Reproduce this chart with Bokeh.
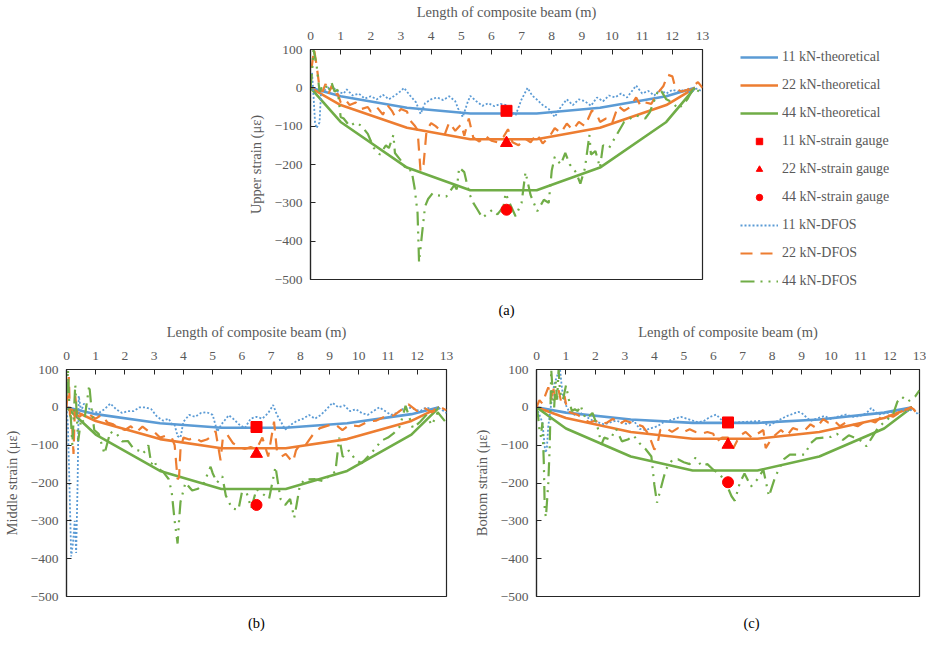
from bokeh.plotting import figure
from bokeh.models import Range1d, FixedTicker, Legend, LegendItem, LinearAxis, Spacer
from bokeh.layouts import column, row
from bokeh.embed import file_html
from bokeh.resources import INLINE

FONT = "Liberation Serif"
GRAY = "#595959"
AXC = "#262626"
BLUE, ORANGE, GREEN, RED = "#5B9BD5", "#ED7D31", "#70AD47", "#FF0000"

X_TICKS = list(range(0, 14))
Y_TICKS = [-500, -400, -300, -200, -100, 0, 100]
X_LABEL = "Length of composite beam (m)"

# theoretical curves (x in m, strain in micro-strain)
THEO_X = [0, 1.0, 3.2, 5.3, 7.5, 9.6, 11.8, 12.75]
A_THEO_11 = [0, -22, -52, -67, -67, -52, -22, 0]
A_THEO_22 = [0, -45, -104, -134, -134, -104, -45, 0]
A_THEO_44 = [0, -89, -208, -267, -267, -208, -89, 0]
B_THEO_11 = [0, -18, -42, -54, -54, -42, -18, 0]
B_THEO_22 = [0, -36, -84, -108, -108, -84, -36, 0]
B_THEO_44 = [0, -72, -168, -216, -216, -168, -72, 0]
C_THEO_11 = [0, -14, -32, -41, -41, -32, -14, 0]
C_THEO_22 = [0, -28, -65, -83, -83, -65, -28, 0]
C_THEO_44 = [0, -56, -130, -167, -167, -130, -56, 0]

# strain gauges at mid-span
GAUGE_X = 6.5
A_GAUGE = [-60, -144, -318]
B_GAUGE = [-52, -123, -258]
C_GAUGE = [-40, -99, -198]

# DFOS readings (x, strain)
A_DFOS_11 = [(0, 10), (0.05, 40), (0.1, -20), (0.15, -90), (0.2, -105), (0.3, -90), (0.35, -10), (0.5, -5),
             (0.7, 5), (0.9, -10), (1.1, -15), (1.2, -4), (1.4, -20), (1.6, -15), (1.8, -28), (2.0, -22),
             (2.2, -30), (2.4, -18), (2.6, -30), (2.8, -20), (3.0, -8), (3.1, 0), (3.3, -20), (3.5, -38),
             (3.65, -68), (3.8, -40), (4.0, -30), (4.2, -25), (4.4, -32), (4.6, -22), (4.8, -35), (4.9, -55),
             (5.05, -76), (5.2, -40), (5.3, -21), (5.5, -35), (5.7, -47), (5.9, -40), (6.1, -48), (6.3, -42),
             (6.5, -45), (6.65, -60), (6.8, -72), (7.0, -30), (7.2, 0), (7.35, -20), (7.5, -30), (7.7, -45),
             (7.9, -55), (8.1, -76), (8.3, -50), (8.5, -30), (8.7, -45), (8.9, -30), (9.1, -35), (9.3, -47),
             (9.5, -25), (9.7, -35), (9.9, -20), (10.1, -25), (10.3, -15), (10.5, -25), (10.8, 6), (11.0, -15),
             (11.2, -8), (11.4, -20), (11.6, -5), (11.8, -15), (12.0, -5), (12.2, -10), (12.4, -5), (12.6, -12),
             (12.8, -2), (13.0, -10)]
A_DFOS_22 = [(0, 0), (0.05, 60), (0.12, 100), (0.2, 60), (0.3, 0), (0.4, -10), (0.5, 10), (0.6, -15), (0.7, 5),
             (0.8, -20), (0.9, -15), (1.0, -38), (1.15, -30), (1.3, -45), (1.5, -38), (1.7, -55), (1.9, -50),
             (2.0, -62), (2.2, -50), (2.4, -70), (2.55, -45), (2.7, -60), (2.8, -75), (3.0, -55), (3.2, -62),
             (3.3, -85), (3.45, -98), (3.55, -110), (3.65, -218), (3.75, -200), (3.85, -110), (4.0, -92),
             (4.15, -100), (4.3, -110), (4.45, -122), (4.6, -90), (4.8, -112), (5.0, -95), (5.1, -125),
             (5.25, -80), (5.4, -130), (5.6, -140), (5.8, -125), (6.0, -138), (6.2, -142), (6.4, -128),
             (6.55, -108), (6.7, -142), (6.9, -150), (7.1, -132), (7.3, -142), (7.5, -120), (7.7, -145),
             (7.9, -130), (8.1, -105), (8.3, -118), (8.5, -93), (8.7, -110), (8.9, -89), (9.1, -100),
             (9.33, -59), (9.5, -70), (9.6, -89), (9.8, -80), (10.0, -93), (10.2, -47), (10.4, -60),
             (10.6, -50), (10.8, -25), (10.95, -47), (11.1, -38), (11.3, -42), (11.5, -15), (11.7, 4),
             (11.85, 34), (12.0, 30), (12.1, 0), (12.3, -10), (12.5, -5), (12.7, 5), (12.85, 15), (13.0, 0)]
A_DFOS_44 = [(0, 0), (0.05, 40), (0.1, 100), (0.2, 60), (0.3, -10), (0.4, 5), (0.5, 8), (0.6, -10), (0.7, 13),
             (0.8, -10), (0.9, -5), (1.0, -76), (1.1, -80), (1.3, -100), (1.5, -90), (1.7, -100), (1.9, -120),
             (2.1, -157), (2.3, -174), (2.5, -150), (2.6, -157), (2.75, -123), (2.8, -170), (3.0, -190),
             (3.2, -216), (3.35, -215), (3.45, -260), (3.55, -326), (3.6, -455), (3.7, -380), (3.8, -309),
             (3.9, -290), (4.05, -275), (4.2, -280), (4.5, -284), (4.77, -254), (4.85, -265), (4.93, -208),
             (5.1, -220), (5.26, -275), (5.4, -300), (5.54, -318), (5.7, -339), (6.03, -318), (6.2, -330),
             (6.4, -310), (6.47, -275), (6.6, -300), (6.8, -335), (7.0, -300), (7.13, -220), (7.3, -280),
             (7.52, -322), (7.74, -292), (7.9, -300), (8.0, -216), (8.1, -180), (8.3, -200), (8.45, -170),
             (8.6, -200), (8.8, -220), (8.95, -250), (9.1, -210), (9.25, -123), (9.3, -174), (9.45, -165),
             (9.6, -208), (9.7, -150), (9.9, -157), (10.15, -123), (10.4, -89), (10.6, -80), (10.8, -72),
             (11.1, -80), (11.25, -64), (11.5, -13), (11.6, -4), (11.8, -30), (12.0, -38), (12.2, -55),
             (12.5, -30), (12.7, 0), (12.9, -10), (13.0, -20)]

B_DFOS_11 = [(0, 0), (0.05, -50), (0.1, -200), (0.16, -394), (0.22, -360), (0.28, -300), (0.33, -385),
             (0.38, -200), (0.42, 30), (0.5, -10), (0.6, 10), (0.7, 0), (0.9, -10), (1.1, -15), (1.3, -5),
             (1.5, 10), (1.7, -5), (1.9, -15), (2.1, -10), (2.3, -10), (2.5, 0), (2.7, 0), (2.9, -5),
             (3.1, -25), (3.3, -35), (3.5, -30), (3.6, -45), (3.7, -47), (3.8, -76), (3.9, -80), (4.0, -38),
             (4.2, -20), (4.4, -25), (4.6, -15), (4.8, -13), (5.0, -20), (5.16, -64), (5.3, -45), (5.55, -21),
             (5.7, -30), (5.9, -45), (6.1, -55), (6.3, -30), (6.5, -25), (6.7, -30), (6.9, -15), (7.07, 6),
             (7.2, -20), (7.35, -40), (7.48, -59), (7.7, -45), (7.9, -35), (8.1, -30), (8.3, -20), (8.5, -30),
             (8.7, -20), (8.9, -5), (9.1, 12), (9.3, 0), (9.5, 5), (9.7, -10), (9.9, -5), (10.1, -15),
             (10.3, -20), (10.5, -10), (10.7, 0), (10.9, -10), (11.1, -20), (11.3, -15), (11.5, -5), (11.7, 0),
             (11.9, -5), (12.1, -10), (12.3, 0), (12.5, -5), (12.7, 0), (12.9, -10), (13.0, -15)]
B_DFOS_22 = [(0, 0), (0.08, 80), (0.12, -20), (0.18, -30), (0.24, -123), (0.3, 30), (0.36, -20), (0.45, -25),
             (0.6, -15), (0.8, -20), (1.0, -30), (1.2, -20), (1.4, -40), (1.6, -45), (1.8, -55), (2.0, -60),
             (2.2, -50), (2.4, -65), (2.6, -51), (2.8, -63), (3.0, -65), (3.2, -80), (3.4, -75), (3.6, -80),
             (3.7, -100), (3.8, -190), (3.85, -185), (3.9, -110), (4.0, -80), (4.2, -85), (4.4, -80),
             (4.6, -90), (4.8, -85), (5.0, -75), (5.1, -63), (5.27, -140), (5.35, -80), (5.5, -72), (5.7, -95),
             (5.9, -105), (6.1, -110), (6.3, -105), (6.5, -110), (6.7, -80), (6.9, -130), (7.1, -38),
             (7.2, -115), (7.36, -130), (7.5, -123), (7.68, -140), (7.75, -144), (7.85, -114), (8.0, -97),
             (8.2, -97), (8.45, -70), (8.67, -55), (9.0, -47), (9.22, -47), (9.44, -60), (9.66, -47),
             (10.0, -50), (10.3, -38), (10.6, -35), (10.87, -25), (11.2, -21), (11.5, -4), (11.7, 8),
             (12.0, -10), (12.2, 0), (12.5, -13), (12.8, 0), (13.0, -8)]
B_DFOS_44 = [(0, 30), (0.05, 100), (0.1, 0), (0.15, -30), (0.2, -100), (0.3, 60), (0.35, -20), (0.4, -89),
             (0.5, -30), (0.6, -40), (0.78, 59), (0.85, 0), (0.95, -60), (1.1, -70), (1.2, -97), (1.3, -123),
             (1.5, -64), (1.6, -70), (1.7, -68), (1.9, -90), (2.1, -89), (2.3, -110), (2.5, -115), (2.6, -123),
             (2.7, -115), (2.8, -100), (2.9, -150), (3.0, -140), (3.1, -160), (3.3, -170), (3.5, -190),
             (3.6, -225), (3.7, -300), (3.8, -360), (3.85, -300), (3.9, -250), (4.07, -199), (4.3, -220),
             (4.5, -215), (4.7, -200), (4.93, -157), (5.0, -174), (5.15, -199), (5.33, -182), (5.45, -233),
             (5.66, -267), (5.88, -271), (6.0, -225), (6.16, -225), (6.32, -267), (6.5, -216), (6.65, -225),
             (6.93, -242), (7.15, -157), (7.32, -242), (7.48, -258), (7.65, -242), (7.79, -292), (7.87, -258),
             (7.98, -208), (8.14, -191), (8.5, -190), (8.8, -195), (9.0, -180), (9.2, -170), (9.33, -80),
             (9.45, -131), (9.66, -114), (9.9, -140), (10.1, -148), (10.3, -131), (10.6, -106), (10.75, -89),
             (11.0, -80), (11.2, -68), (11.4, -51), (11.6, 4), (11.85, -55), (12.1, -38), (12.3, -21),
             (12.5, -47), (12.7, -13), (13.0, -42)]

C_DFOS_11 = [(0, 0), (0.1, -20), (0.2, -40), (0.25, -80), (0.3, -120), (0.35, -110), (0.4, -50), (0.5, 10),
             (0.6, 60), (0.7, 83), (0.8, 100), (0.85, 60), (0.9, 30), (1.0, 5), (1.1, -10), (1.3, -20),
             (1.5, -15), (1.7, -25), (1.9, -35), (2.1, -40), (2.3, -45), (2.5, -40), (2.7, -35), (2.9, -40),
             (3.1, -45), (3.3, -35), (3.5, -57), (3.7, -60), (3.9, -55), (4.1, -50), (4.3, -40), (4.5, -35),
             (4.7, -30), (4.9, -25), (5.1, -30), (5.3, -35), (5.5, -40), (5.7, -35), (5.9, -25), (6.1, -19),
             (6.3, -35), (6.5, -45), (6.8, -40), (7.2, -38), (7.57, -36), (7.9, -48), (8.2, -35), (8.5, -23),
             (8.88, -12), (9.0, -15), (9.3, -36), (9.5, -30), (9.77, -23), (10.0, -31), (10.2, -25),
             (10.5, -19), (10.75, -25), (10.98, -23), (11.2, -15), (11.36, -2), (11.6, -19), (11.97, -14),
             (12.2, -10), (12.4, -6), (12.6, -10), (12.8, -5), (12.95, -19), (13.0, -15)]
C_DFOS_22 = [(0, 0), (0.1, 19), (0.2, 10), (0.3, 32), (0.4, 53), (0.5, 20), (0.55, 58), (0.65, 20), (0.75, 45),
             (0.85, 10), (0.95, 30), (1.05, -10), (1.2, -15), (1.4, -20), (1.6, -30), (1.8, -40), (2.0, -35),
             (2.2, -45), (2.4, -40), (2.6, -30), (2.8, -45), (3.0, -35), (3.2, -40), (3.4, -45), (3.6, -50),
             (3.8, -70), (4.0, -112), (4.1, -100), (4.2, -60), (4.4, -55), (4.6, -65), (4.8, -55), (5.0, -65),
             (5.2, -58), (5.4, -65), (5.6, -70), (5.8, -65), (6.0, -70), (6.1, -91), (6.3, -80), (6.5, -80),
             (6.68, -108), (6.9, -75), (7.1, -65), (7.3, -80), (7.5, -70), (7.7, -60), (7.78, -108), (8.0, -80),
             (8.3, -60), (8.5, -75), (8.7, -55), (8.9, -60), (9.1, -61), (9.3, -45), (9.5, -55), (9.73, -31),
             (9.9, -40), (10.1, -35), (10.3, -50), (10.5, -40), (10.7, -45), (10.9, -50), (11.1, -40),
             (11.3, -35), (11.5, -40), (11.7, -25), (11.9, -20), (12.1, -25), (12.3, -15), (12.5, -10),
             (12.7, 0), (12.8, -5), (12.9, -15), (13.0, -20)]
C_DFOS_44 = [(0, 0), (0.05, -20), (0.1, -60), (0.15, -78), (0.2, -40), (0.25, -150), (0.28, -273), (0.32, -290),
             (0.4, -200), (0.45, -100), (0.5, 100), (0.55, 40), (0.6, 0), (0.65, 70), (0.7, 20), (0.75, 100),
             (0.8, 40), (0.9, 20), (1.0, 58), (1.1, 20), (1.2, -10), (1.3, -5), (1.4, -10), (1.5, 5),
             (1.6, -20), (1.7, -30), (1.9, -15), (2.0, -35), (2.1, -60), (2.2, -99), (2.3, -80), (2.5, -85),
             (2.7, -57), (2.9, -90), (3.1, -85), (3.3, -75), (3.5, -95), (3.7, -110), (3.9, -130), (4.0, -205),
             (4.09, -252), (4.2, -220), (4.3, -190), (4.4, -163), (4.6, -140), (4.8, -137), (5.0, -145),
             (5.2, -150), (5.4, -133), (5.6, -155), (5.8, -150), (6.0, -165), (6.2, -175), (6.4, -195),
             (6.62, -235), (6.73, -247), (6.9, -200), (7.06, -175), (7.28, -209), (7.5, -190), (7.7, -165),
             (7.89, -235), (8.1, -184), (8.4, -137), (8.6, -125), (9.1, -125), (9.3, -95), (9.5, -82),
             (10.0, -78), (10.2, -70), (10.4, -86), (10.6, -74), (10.97, -86), (11.2, -103), (11.4, -78),
             (11.6, -53), (11.85, -36), (12.1, -19), (12.25, 15), (12.4, 28), (12.6, 15), (12.85, 28), (13.0, 45)]

LOADS = ["11 kN", "22 kN", "44 kN"]
COLORS = [BLUE, ORANGE, GREEN]
MARKERS = ["square", "triangle", "circle"]
MARKER_SIZES = [11, 12, 11]
DASHES = ["2 2", "12 8", "14 6 2 6 2 6"]
DFOS_WIDTHS = [1.8, 2.2, 2.2]


def unzip(pairs):
    return [a for a, _ in pairs], [b for _, b in pairs]


def draw_series(p, theo, gauges, dfos):
    theo_r, gauge_r, dfos_r = [], [], []
    for i in range(3):
        theo_r.append(p.line(THEO_X, theo[i], line_color=COLORS[i], line_width=2.6))
    for i in range(3):
        xs, ys = unzip(dfos[i])
        dfos_r.append(p.line(xs, ys, line_color=COLORS[i], line_width=DFOS_WIDTHS[i], line_dash=DASHES[i]))
    for i in range(3):
        gauge_r.append(p.scatter([GAUGE_X], [gauges[i]], marker=MARKERS[i], size=MARKER_SIZES[i],
                                 fill_color=RED, line_color=RED))
    return theo_r, gauge_r, dfos_r


def panel(width, height, left, right, ylabel, theo, gauges, dfos, caption, cap_standoff):
    p = figure(width=width, height=height, output_backend="svg", toolbar_location=None,
               x_range=Range1d(0, 13), y_range=Range1d(-500, 100), x_axis_location="above",
               min_border_left=left, min_border_right=right, min_border_top=0, min_border_bottom=0,
               background_fill_color="white", border_fill_color="white")
    p.xgrid.visible = False
    p.ygrid.visible = False
    p.outline_line_color = AXC
    p.outline_line_width = 1.2
    p.xaxis.ticker = FixedTicker(ticks=X_TICKS)
    p.yaxis.ticker = FixedTicker(ticks=Y_TICKS)
    p.xaxis.axis_label = X_LABEL
    p.yaxis.axis_label = ylabel
    for ax in (p.xaxis[0], p.yaxis[0]):
        ax.axis_line_color = AXC
        ax.axis_line_width = 1.2
        ax.major_tick_line_color = AXC
        ax.major_tick_in = 5
        ax.major_tick_out = 0
        ax.minor_tick_in = 0
        ax.minor_tick_out = 0
        ax.major_label_text_font = FONT
        ax.major_label_text_font_size = "13.5px"
        ax.major_label_text_color = GRAY
        ax.axis_label_text_font = FONT
        ax.axis_label_text_font_size = "14.5px"
        ax.axis_label_text_font_style = "normal"
        ax.axis_label_text_color = GRAY
    p.xaxis.major_label_standoff = 10
    p.xaxis.axis_label_standoff = 9
    p.yaxis.major_label_standoff = 8
    p.yaxis.axis_label_standoff = 8
    draw_series(p, theo, gauges, dfos)
    # caption "(a)/(b)/(c)" as the label of a tick-less axis below the frame
    cap = LinearAxis(ticker=FixedTicker(ticks=[]), axis_label=caption,
                     axis_line_color=None, major_tick_line_color=None, minor_tick_line_color=None,
                     major_tick_out=0, major_tick_in=0, minor_tick_out=0, minor_tick_in=0,
                     major_label_standoff=0, major_label_text_font_size="0px",
                     axis_label_standoff=cap_standoff, axis_label_text_font=FONT,
                     axis_label_text_font_size="14.5px", axis_label_text_font_style="normal",
                     axis_label_text_color="black")
    p.add_layout(cap, "below")
    return p


pa = panel(466, 320, 65, 8, "Upper strain (με)",
           [A_THEO_11, A_THEO_22, A_THEO_44], A_GAUGE, [A_DFOS_11, A_DFOS_22, A_DFOS_44], "(a)", 22)

# legend holder: same renderers and data, with ranges that keep the marks out of view;
# the legend sits in its left side panel (not clipped by the frame)
pl = figure(width=186, height=320, output_backend="svg", toolbar_location=None,
            x_axis_type=None, y_axis_type=None, x_range=Range1d(100, 101), y_range=Range1d(1000, 1001),
            min_border_left=0, min_border_top=0, min_border_right=0, min_border_bottom=0,
            background_fill_color="white", border_fill_color="white")
pl.outline_line_color = None
theo_r, gauge_r, dfos_r = draw_series(pl, [A_THEO_11, A_THEO_22, A_THEO_44], A_GAUGE,
                                      [A_DFOS_11, A_DFOS_22, A_DFOS_44])
items = []
for i in range(3):
    items.append(LegendItem(label=f"{LOADS[i]}-theoretical", renderers=[theo_r[i]]))
for i in range(3):
    items.append(LegendItem(label=f"{LOADS[i]}-strain gauge", renderers=[gauge_r[i]]))
for i in range(3):
    items.append(LegendItem(label=f"{LOADS[i]}-DFOS", renderers=[dfos_r[i]]))
legend = Legend(items=items, location="top_left", orientation="vertical",
                label_text_font=FONT, label_text_font_size="14px", label_text_color=GRAY,
                glyph_width=38, glyph_height=16, label_height=16, label_standoff=4, spacing=12,
                padding=0, margin=0, border_line_color=None, background_fill_alpha=0)
pl.add_layout(legend, "left")

pb = panel(470, 313, 54, 24, "Middle strain (με)",
           [B_THEO_11, B_THEO_22, B_THEO_44], B_GAUGE, [B_DFOS_11, B_DFOS_22, B_DFOS_44], "(b)", 18)
# the (c) caption sits a little right of the frame centre in the reference: pad with no-break spaces
pc = panel(456, 313, 61, 7, "Bottom strain (με)",
           [C_THEO_11, C_THEO_22, C_THEO_44], C_GAUGE, [C_DFOS_11, C_DFOS_22, C_DFOS_44],
           "\u00a0" * 13 + "(c)", 18)

layout = column(row(Spacer(width=244, height=320), pa, Spacer(width=30, height=320), pl), row(pb, pc))
open("out.html", "w").write(file_html(layout, INLINE))
